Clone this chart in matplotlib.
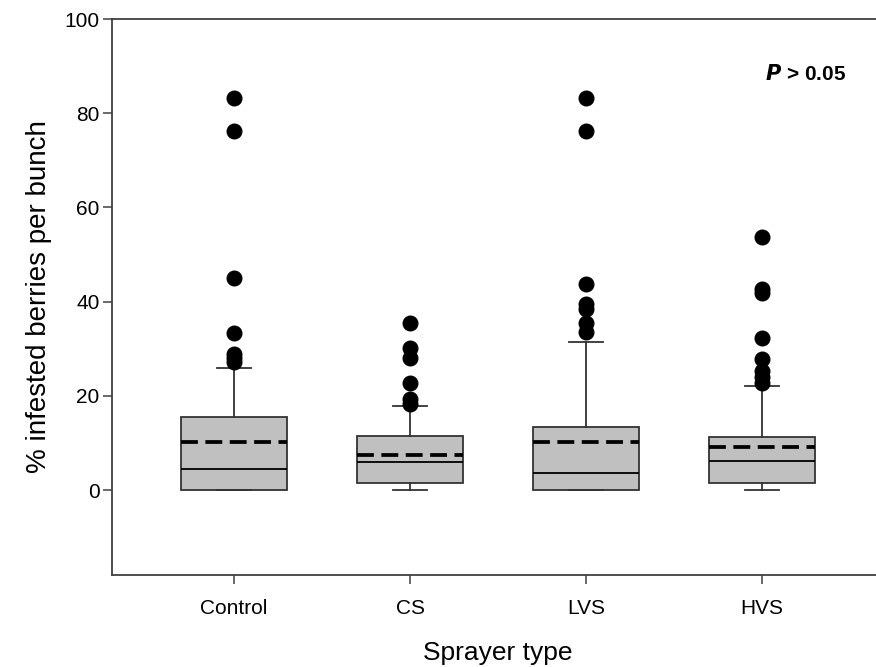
import matplotlib.pyplot as plt

plt.rcParams['font.family'] = ['Liberation Sans', 'DejaVu Sans']

# ======================
# DATA
# ======================
groups = ['Control', 'CS', 'LVS', 'HVS']
whislo = [0.0, 0.0, 0.0, 0.0]
q1 = [0.0, 1.5, 0.0, 1.5]
medians = [4.5, 6.0, 3.6, 6.2]
means = [10.2, 7.4, 10.2, 9.2]
q3 = [15.5, 11.5, 13.4, 11.3]
whishi = [26.0, 17.9, 31.4, 22.1]
fliers_control = [83.3, 76.2, 45.0, 33.4, 29.0, 28.0, 27.2]
fliers_cs = [35.5, 30.1, 28.0, 22.7, 19.3, 18.4]
fliers_lvs = [83.3, 76.2, 43.8, 39.6, 38.4, 35.4, 33.6]
fliers_hvs = [53.8, 42.8, 41.8, 32.3, 27.9, 25.2, 24.0, 22.8]
fliers = [fliers_control, fliers_cs, fliers_lvs, fliers_hvs]

# ======================
# BOX STATS FOR bxp
# ======================
stats = []
for i in range(len(groups)):
    stats.append({
        'label': groups[i],
        'whislo': whislo[i],
        'q1': q1[i],
        'med': medians[i],
        'mean': means[i],
        'q3': q3[i],
        'whishi': whishi[i],
        'fliers': fliers[i],
    })

# ======================
# PLOT
# ======================
fig = plt.figure(figsize=(8.76, 6.67), dpi=100)
ax = fig.add_axes([0.1279, 0.1379, 0.8813, 0.8336])

positions = list(range(1, len(groups) + 1))
edge = '#333333'

ax.bxp(
    stats,
    positions=positions,
    widths=0.6,
    capwidths=[0.19] * len(groups),
    patch_artist=True,
    showmeans=True,
    meanline=True,
    boxprops=dict(facecolor='#c0c0c0', edgecolor=edge, linewidth=1.3),
    medianprops=dict(color='black', linewidth=1.3),
    meanprops=dict(color='black', linestyle=(0, (4.5, 2)), linewidth=2.7),
    whiskerprops=dict(color=edge, linewidth=1.3),
    capprops=dict(color=edge, linewidth=1.3),
    flierprops=dict(marker='o', markerfacecolor='black', markeredgecolor='black',
                    markersize=10.5, linestyle='none'),
)

ax.set_xlim(0.307, 4.693)
ax.set_ylim(-18, 100)
ax.set_yticks([0, 20, 40, 60, 80, 100])
ax.set_xticks(positions)
ax.set_xticklabels(groups)

for s in ax.spines.values():
    s.set_color('#404040')
    s.set_linewidth(1.3)

ax.tick_params(direction='out', length=6.5, width=1.1, color='#404040',
               labelsize=15)
ax.tick_params(axis='y', pad=2.5)
ax.tick_params(axis='x', pad=11)

ax.set_xlabel("Sprayer type", fontsize=19, labelpad=16)
ax.set_ylabel("% infested berries per bunch", fontsize=20, labelpad=9)

ax.text(4.48, 88.3, r'$\mathbfit{P}$ > 0.05', fontsize=15, fontweight='bold',
        ha='right', va='center')

plt.savefig('out.png', dpi=100)
